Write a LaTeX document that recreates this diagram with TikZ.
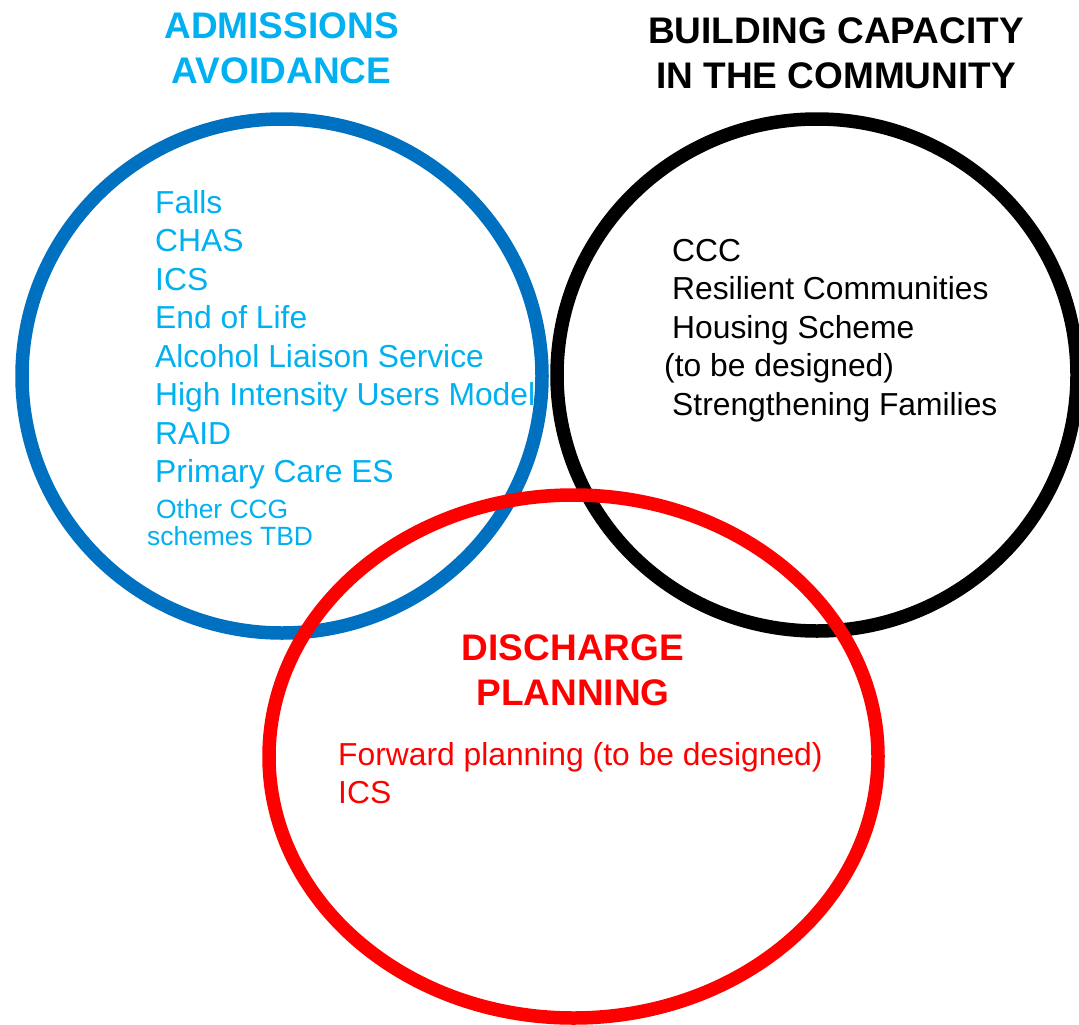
\documentclass[tikz,border=0pt]{standalone}
\usepackage{fontspec}
\setmainfont{Liberation Sans}
\definecolor{ltblue}{HTML}{00B0F0}
\definecolor{ringblue}{HTML}{0070C0}
\definecolor{ringred}{HTML}{FF0000}
\tikzset{
  ring/.style={line width=13.5pt},
  title/.style={inner sep=0pt, anchor=base, font=\bfseries\fontsize{37}{43}\selectfont},
  item/.style={inner sep=0pt, anchor=base west, font=\fontsize{31.8}{38}\selectfont},
  smallitem/.style={inner sep=0pt, anchor=base west, font=\fontsize{26.4}{30}\selectfont},
}
\begin{document}
\begin{tikzpicture}[x=1pt,y=-1pt]
\useasboundingbox (0,0) rectangle (1079,1025);
% rings
\draw[ring, ringblue] (282,376) ellipse [x radius=260, y radius=257];
\draw[ring, black] (817,375) ellipse [x radius=260, y radius=256];
\draw[ring, ringred] (573.5,756.5) ellipse [x radius=304.5, y radius=261.5];
% titles
\node[title, ltblue] (ta1) at (281.5,38.5) {ADMISSIONS};
\node[title, ltblue] (ta2) at (281.5,83.5) {AVOIDANCE};
\node[title, black] (tb1) at (836,43.5) {BUILDING CAPACITY};
\node[title, black] (tb2) at (836,88.5) {IN THE COMMUNITY};
\node[title, ringred] (tc1) at (573,660) {DISCHARGE};
\node[title, ringred] (tc2) at (573,705) {PLANNING};
% admissions list
\node[item, ltblue] (a1) at (155,213) {Falls};
\node[item, ltblue] (a2) at (155,251.5) {CHAS};
\node[item, ltblue] (a3) at (155,290) {ICS};
\node[item, ltblue] (a4) at (155,328.5) {End of Life};
\node[item, ltblue] (a5) at (155,367) {Alcohol Liaison Service};
\node[item, ltblue] (a6) at (155,405.5) {High Intensity Users Model};
\node[item, ltblue] (a7) at (155,444) {RAID};
\node[item, ltblue] (a8) at (155,482.5) {Primary Care ES};
\node[smallitem, ltblue] (a9) at (156,518) {Other CCG};
\node[smallitem, ltblue] (a10) at (147,545) {schemes TBD};
% community list
\node[item, black] (b1) at (672,261) {CCC};
\node[item, black] (b2) at (672,299.5) {Resilient Communities};
\node[item, black] (b3) at (672,338) {Housing Scheme};
\node[item, black] (b4) at (664,376.5) {(to be designed)};
\node[item, black] (b5) at (672,415) {Strengthening Families};
% discharge list
\node[item, ringred] (c1) at (338,765) {Forward planning (to be designed)};
\node[item, ringred] (c2) at (338,803) {ICS};
\end{tikzpicture}
\end{document}
